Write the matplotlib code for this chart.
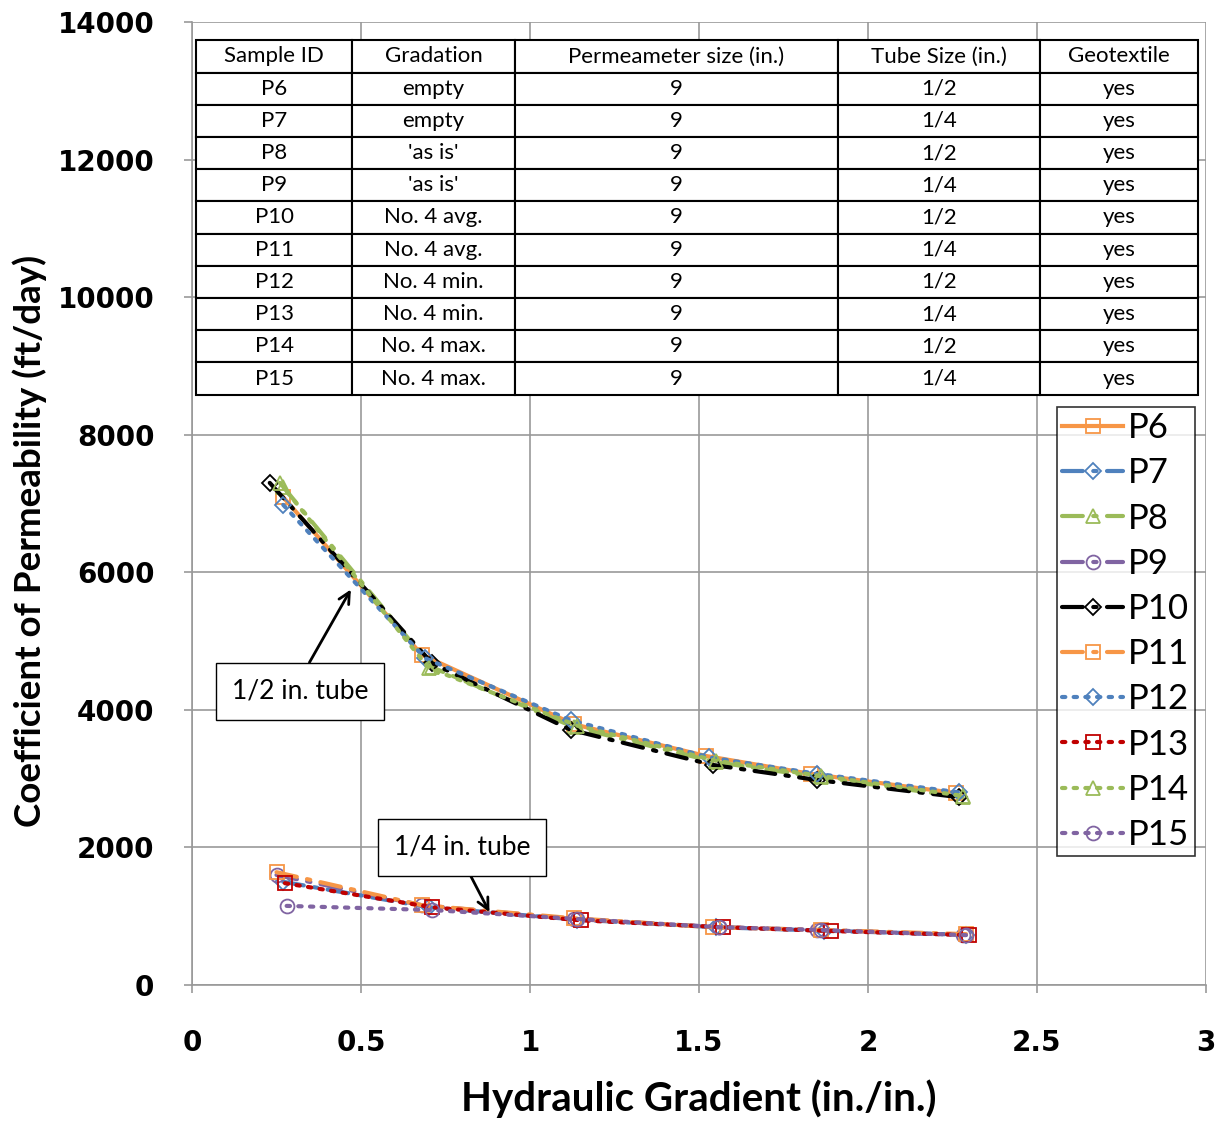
import matplotlib.pyplot as plt

plt.rcParams['font.family'] = ['Lato', 'DejaVu Sans']

# 1/2 in. tube series
x_p6 = [0.27, 0.68, 1.13, 1.52, 1.83, 2.26]
y_p6 = [7090, 4800, 3790, 3330, 3070, 2790]
x_p8 = [0.27, 0.71, 1.13, 1.55, 1.86, 2.28]
y_p8 = [7240, 4620, 3750, 3240, 3020, 2730]
x_p10 = [0.23, 0.71, 1.12, 1.54, 1.85, 2.27]
y_p10 = [7300, 4680, 3710, 3200, 2980, 2730]
x_p12 = [0.27, 0.69, 1.12, 1.53, 1.85, 2.27]
y_p12 = [6980, 4750, 3850, 3310, 3070, 2800]
x_p14 = [0.26, 0.70, 1.14, 1.55, 1.86, 2.28]
y_p14 = [7300, 4610, 3770, 3260, 3040, 2750]

# 1/4 in. tube series
x_p7 = [0.27, 0.70, 1.14, 1.55, 1.87, 2.29]
y_p7 = [1500, 1130, 950, 840, 790, 730]
x_p9 = [0.25, 0.68, 1.13, 1.56, 1.85, 2.28]
y_p9 = [1600, 1160, 960, 840, 800, 730]
x_p11 = [0.25, 0.68, 1.13, 1.54, 1.86, 2.29]
y_p11 = [1640, 1160, 970, 840, 800, 740]
x_p13 = [0.275, 0.71, 1.15, 1.57, 1.89, 2.30]
y_p13 = [1480, 1130, 940, 840, 785, 725]
x_p15 = [0.28, 0.71, 1.14, 1.56, 1.86, 2.29]
y_p15 = [1150, 1090, 960, 840, 800, 725]

col_labels = ["Sample ID", "Gradation", "Permeameter size (in.)", "Tube Size (in.)", "Geotextile"]
sample_ids = ["P6", "P7", "P8", "P9", "P10", "P11", "P12", "P13", "P14", "P15"]
gradations = ["empty", "empty", "'as is'", "'as is'", "No. 4 avg.", "No. 4 avg.",
              "No. 4 min.", "No. 4 min.", "No. 4 max.", "No. 4 max."]
perm_sizes = ["9"] * 10
tube_sizes = ["1/2", "1/4"] * 5
geotextile = ["yes"] * 10

ORANGE = "#F79646"
BLUE = "#4F81BD"
GREEN = "#9BBB59"
PURPLE = "#8064A2"
RED = "#C00000"

dashdot = (0, (5, 2.5, 0.8, 2.5))
dotted = (0, (0.8, 2))

series = [
    ("P6", x_p6, y_p6, ORANGE, "-", "s"),
    ("P7", x_p7, y_p7, BLUE, dashdot, "D"),
    ("P8", x_p8, y_p8, GREEN, dashdot, "^"),
    ("P9", x_p9, y_p9, PURPLE, dashdot, "o"),
    ("P10", x_p10, y_p10, "black", dashdot, "D"),
    ("P11", x_p11, y_p11, ORANGE, dashdot, "s"),
    ("P12", x_p12, y_p12, BLUE, dotted, "D"),
    ("P13", x_p13, y_p13, RED, dotted, "s"),
    ("P14", x_p14, y_p14, GREEN, dotted, "^"),
    ("P15", x_p15, y_p15, PURPLE, dotted, "o"),
]

fig = plt.figure(figsize=(12.23, 11.25), dpi=100)
ax = fig.add_axes([192 / 1223, 1 - 985 / 1125, 1014 / 1223, 963 / 1125])

for name, xs, ys, color, ls, mk in series:
    ax.plot(xs, ys, color=color, linestyle=ls, linewidth=3, marker=mk,
            markersize=10 if mk != "D" else 8, markerfacecolor="none",
            markeredgecolor=color, markeredgewidth=1.3, label=name,
            dash_capstyle="round", zorder=3)

ax.set_xlim(0, 3)
ax.set_ylim(0, 14000)
ax.set_xticks([0, 0.5, 1, 1.5, 2, 2.5, 3])
ax.set_xticklabels(["0", "0.5", "1", "1.5", "2", "2.5", "3"])
ax.set_yticks(range(0, 14001, 2000))
ax.grid(True, color="#999999", linewidth=1.2)
ax.set_axisbelow(True)
for side in ["top", "right"]:
    ax.spines[side].set_visible(False)
for side in ["left", "bottom"]:
    ax.spines[side].set_color("#999999")
    ax.spines[side].set_linewidth(1.2)
ax.tick_params(direction="out", length=6, color="#999999", width=1.2)
ax.tick_params(axis="y", pad=21)
ax.tick_params(axis="x", pad=26)
for lbl in ax.get_xticklabels() + ax.get_yticklabels():
    lbl.set_fontweight("bold")
    lbl.set_fontsize(20)
    lbl.set_family(["DejaVu Sans"])

ax.set_xlabel("Hydraulic Gradient (in./in.)", fontsize=29, fontweight="bold")
ax.set_ylabel("Coefficient of Permeability (ft/day)", fontsize=26.5, fontweight="bold")
ax.xaxis.set_label_coords(0.5, -0.098)
ax.yaxis.set_label_coords(-0.143, 0.461)

# data table
cells = [list(r) for r in zip(sample_ids, gradations, perm_sizes, tube_sizes, geotextile)]
widths = [156, 163, 323, 202, 158]
tw = sum(widths)
tbl = ax.table(cellText=cells, colLabels=col_labels, cellLoc="center",
               colWidths=[w / tw * 0.988 for w in widths],
               bbox=[0.004, 0.613, 0.988, 0.368], zorder=5)
tbl.auto_set_font_size(False)
tbl.set_fontsize(16)
for (r, c), cell in tbl.get_celld().items():
    cell.set_edgecolor("black")
    cell.set_linewidth(1.5)
    cell.set_facecolor("white")

# legend
leg = ax.legend(loc="upper left", bbox_to_anchor=((1057 - 192) / 1014, (985 - 407) / 963),
                fontsize=25, handlelength=1.75, frameon=True, fancybox=False,
                borderpad=0.15, labelspacing=0.38, handletextpad=0.15,
                borderaxespad=0)
leg.get_frame().set_edgecolor("black")
leg.get_frame().set_linewidth(1.2)

# annotations
ax.annotate("1/2 in. tube", xy=(0.47, 5750), xytext=(0.32, 4270),
            fontsize=19, ha="center", va="center",
            bbox=dict(boxstyle="square,pad=0.6", fc="white", ec="black", lw=1),
            arrowprops=dict(arrowstyle="->", lw=2, color="black",
                            mutation_scale=20, shrinkA=0, shrinkB=0,
                            relpos=(0.5, 1.0)))
ax.annotate("1/4 in. tube", xy=(0.88, 1060), xytext=(0.80, 2000),
            fontsize=19, ha="center", va="center",
            bbox=dict(boxstyle="square,pad=0.6", fc="white", ec="black", lw=1),
            arrowprops=dict(arrowstyle="->", lw=2, color="black",
                            mutation_scale=20, shrinkA=0, shrinkB=0,
                            relpos=(0.5, 0.0)))

fig.savefig("out.png", dpi=100)
